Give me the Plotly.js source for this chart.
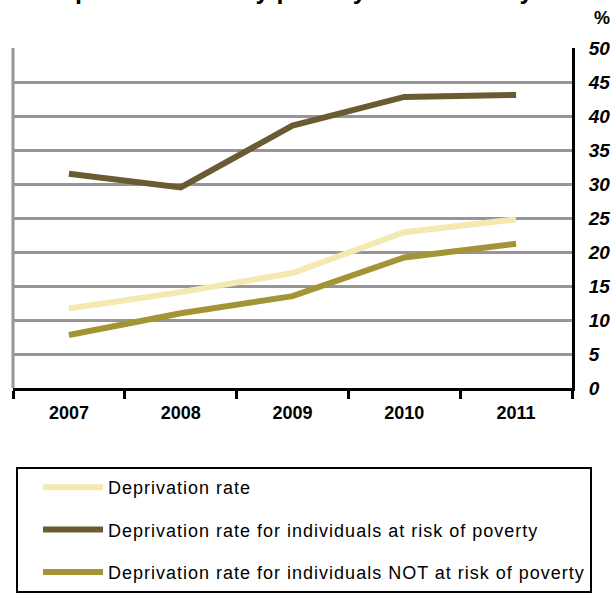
<!DOCTYPE html>
<html>
<head>
<meta charset="utf-8">
<script src="https://cdn.plot.ly/plotly-3.0.1.min.js"></script>
<style>
html,body{margin:0;padding:0;background:#fff;}
#chart{width:616px;height:595px;}
.legendtext{letter-spacing:1px;}
</style>
</head>
<body>
<div id="chart"></div>
<script>
const years = ["2007", "2008", "2009", "2010", "2011"];
const deprivationRate = [11.7, 14.1, 16.9, 22.9, 24.8];
const deprivationAtRisk = [31.5, 29.5, 38.6, 42.8, 43.1];
const deprivationNotAtRisk = [7.8, 11.0, 13.5, 19.2, 21.2];
const seriesNames = [
  "Deprivation rate",
  "Deprivation rate for individuals at risk of poverty",
  "Deprivation rate for individuals NOT at risk of poverty"
];
const seriesColors = ["#F3E9B1", "#6A5C32", "#A39536"];
const yTicks = [0, 5, 10, 15, 20, 25, 30, 35, 40, 45, 50];
const titleText = "Deprivation rate by poverty status in Italy";

const seriesValues = [deprivationRate, deprivationAtRisk, deprivationNotAtRisk];
const traces = seriesValues.map((vals, i) => ({
  type: "scatter",
  mode: "lines",
  x: years,
  y: vals,
  name: seriesNames[i],
  legendgroup: "g" + i,
  line: {color: seriesColors[i], width: 6},
  hoverinfo: "skip"
}));

const font = "Liberation Sans, Arial, sans-serif";
const layout = {
  width: 616,
  height: 595,
  margin: {l: 13, r: 44, t: 48, b: 207, autoexpand: false},
  paper_bgcolor: "#ffffff",
  plot_bgcolor: "#ffffff",
  showlegend: true,
  font: {family: font, color: "#000"},
  xaxis: {
    type: "category",
    categoryorder: "array",
    categoryarray: years,
    range: [-0.5, 4.5],
    showgrid: false,
    zeroline: false,
    showline: true,
    linecolor: "#000",
    linewidth: 3,
    ticks: "outside",
    tickson: "boundaries",
    ticklen: 8,
    tickwidth: 3,
    tickcolor: "#000",
    tickfont: {family: font, size: 18, weight: "bold", color: "#000"},
    ticklabelstandoff: 6,
    fixedrange: true
  },
  yaxis: {
    side: "right",
    range: [0, 50],
    tickmode: "array",
    tickvals: yTicks,
    ticktext: yTicks.map(String),
    showgrid: true,
    gridcolor: "#969696",
    gridwidth: 3,
    zeroline: false,
    showline: true,
    linecolor: "#000",
    linewidth: 3,
    ticks: "",
    ticklabelstandoff: 10,
    tickfont: {family: font, size: 19, weight: "bold", style: "italic", color: "#000"},
    fixedrange: true
  },
  shapes: [
    {type: "line", xref: "paper", yref: "paper", x0: 0, x1: 0, y0: 0, y1: 1,
     line: {color: "#969696", width: 3}}
  ],
  annotations: [
    {xref: "paper", yref: "paper", x: 1.053, y: 1.088, text: "%", showarrow: false,
     font: {family: font, size: 18, weight: "bold", color: "#000"}, xanchor: "center", yanchor: "middle"},
    {xref: "paper", yref: "paper", x: 0.492, y: 1.172, text: titleText, showarrow: false,
     font: {family: font, size: 25, weight: "bold", color: "#000"}, xanchor: "center", yanchor: "middle"}
  ],
  legend: {
    xref: "container",
    yref: "container",
    x: 0.026,
    y: 0.2151,
    xanchor: "left",
    yanchor: "top",
    orientation: "v",
    bordercolor: "#000",
    borderwidth: 2,
    bgcolor: "#ffffff",
    tracegroupgap: 16,
    itemwidth: 60,
    indentation: 20,
    font: {family: font, size: 18, color: "#000"}
  }
};

Plotly.newPlot("chart", traces, layout, {displayModeBar: false, staticPlot: true});
</script>
</body>
</html>
